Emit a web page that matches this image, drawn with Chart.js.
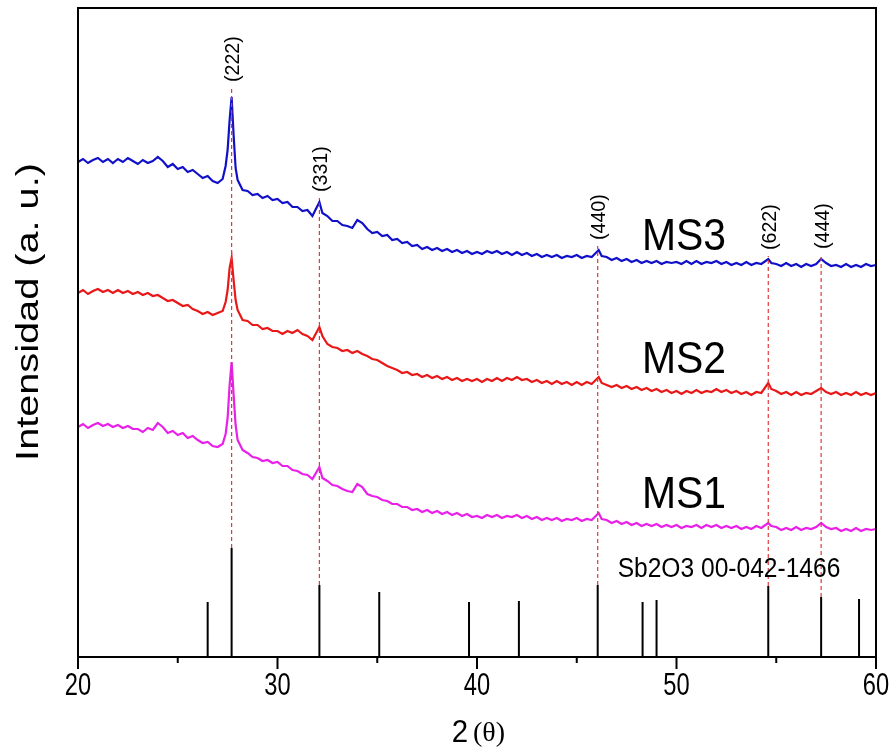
<!DOCTYPE html>
<html>
<head>
<meta charset="utf-8">
<script src="https://cdn.jsdelivr.net/npm/chart.js@4"></script>
<style>
  html, body { margin: 0; padding: 0; background: #fff; }
  #wrap { width: 892px; height: 749px; }
</style>
</head>
<body>
<div id="wrap"><canvas id="xrd" width="892" height="749"></canvas></div>
<script>
// 2θ grid shared by the three patterns (denser around the (222) peak)
const twoTheta = [
  20, 20.25, 20.5, 20.75,  21, 21.25, 21.5, 21.75,  22, 22.25, 22.5, 22.75,
  23, 23.25, 23.5, 23.75,  24, 24.25, 24.5, 24.75,  25, 25.25, 25.5, 25.75,
  26, 26.25, 26.5, 26.75,  27, 27.25, 27.4, 27.5, 27.6, 27.7, 27.8, 27.9,
  28, 28.25, 28.5, 28.75,  29, 29.25, 29.5, 29.75,  30, 30.25, 30.5, 30.75,
  31, 31.25, 31.5, 31.75,  32.1, 32.25, 32.5, 32.75,  33, 33.25, 33.5, 33.75,
  34, 34.25, 34.5, 34.75,  35, 35.25, 35.5, 35.75,  36, 36.25, 36.5, 36.75,
  37, 37.25, 37.5, 37.75,  38, 38.25, 38.5, 38.75,  39, 39.25, 39.5, 39.75,
  40, 40.25, 40.5, 40.75,  41, 41.25, 41.5, 41.75,  42, 42.25, 42.5, 42.75,
  43, 43.25, 43.5, 43.75,  44, 44.25, 44.5, 44.75,  45, 45.25, 45.5, 45.75,
  46.1, 46.25, 46.5, 46.75,  47, 47.25, 47.5, 47.75,  48, 48.25, 48.5, 48.75,
  49, 49.25, 49.5, 49.75,  50, 50.25, 50.5, 50.75,  51, 51.25, 51.5, 51.75,
  52, 52.25, 52.5, 52.75,  53, 53.25, 53.5, 53.75,  54, 54.25, 54.6, 54.75,
  55, 55.25, 55.5, 55.75,  56, 56.25, 56.5, 56.75,  57, 57.25, 57.5, 57.75,
  58, 58.25, 58.5, 58.75,  59, 59.25, 59.5, 59.75,  60
];

// intensities (a. u., stacked as drawn)
const ms3 = [
  495, 498, 494, 497,  499, 495, 498, 494,  498, 495, 499, 496,
  493, 497, 494, 496,  500, 496, 490, 493,  488, 490, 485, 487,
  483, 479, 481, 476,  474, 478, 491, 507, 537, 560, 522, 489,
  477, 467, 466, 462,  463, 459, 461, 457,  458, 454, 455, 450,
  450, 446, 447, 441,  455, 444, 441, 436,  436, 432, 431, 429,
  437, 434, 428, 424,  425, 421, 422, 417,  418, 414, 415, 411,
  412, 408, 410, 407,  409, 406, 408, 405,  407, 404, 406, 403,
  405, 403, 406, 404,  406, 403, 405, 402,  405, 402, 404, 401,
  403, 400, 402, 400,  402, 399, 401, 400,  402, 399, 401, 400,
  407, 401, 400, 397,  399, 396, 398, 395,  397, 394, 396, 394,
  396, 393, 395, 394,  395, 393, 396, 393,  396, 393, 395, 394,
  396, 393, 395, 392,  394, 392, 395, 392,  394, 393, 398, 394,
  393, 391, 394, 391,  393, 390, 393, 391,  393, 398, 394, 391,
  392, 390, 393, 390,  392, 390, 393, 391,  392
];
const ms2 = [
  364, 367, 363, 366,  368, 365, 367, 364,  367, 364, 366, 363,
  365, 362, 364, 361,  362, 359, 356, 357,  354, 351, 352, 348,
  346, 343, 345, 342,  344, 346, 355, 367, 389, 399, 377, 357,
  347, 337, 336, 332,  332, 328, 329, 326,  326, 323, 326, 324,
  327, 323, 321, 317,  330, 321, 313, 310,  309, 306, 307, 304,
  306, 303, 301, 298,  297, 294, 291, 289,  287, 284, 285, 282,
  283, 280, 282, 279,  281, 278, 280, 277,  279, 276, 278, 276,
  278, 275, 278, 276,  279, 276, 279, 277,  280, 277, 278, 275,
  277, 274, 276, 273,  276, 273, 275, 272,  275, 272, 275, 273,
  280, 274, 272, 270,  272, 269, 271, 268,  270, 267, 269, 266,
  268, 265, 267, 264,  266, 263, 266, 264,  267, 264, 266, 265,
  268, 265, 267, 264,  266, 263, 265, 262,  265, 264, 274, 268,
  266, 263, 265, 262,  265, 262, 264, 263,  266, 269, 265, 263,
  265, 262, 264, 262,  265, 262, 264, 262,  264
];
const ms1 = [
  230, 233, 229, 232,  234, 231, 233, 230,  232, 229, 231, 228,
  228, 225, 229, 227,  234, 230, 224, 226,  222, 224, 219, 221,
  217, 214, 215, 211,  210, 213, 223, 239, 272, 295, 262, 232,
  217, 207, 204, 200,  199, 196, 197, 194,  195, 191, 191, 187,
  186, 183, 182, 178,  190, 179, 176, 172,  171, 168, 166, 165,
  173, 170, 163, 161,  160, 157, 156, 153,  153, 150, 150, 147,
  148, 145, 147, 144,  146, 143, 145, 142,  144, 141, 143, 140,
  141, 139, 142, 140,  142, 139, 141, 140,  142, 139, 141, 138,
  140, 137, 139, 137,  139, 136, 138, 137,  139, 136, 138, 137,
  144, 138, 137, 134,  136, 133, 135, 132,  134, 131, 133, 131,
  133, 130, 132, 130,  132, 129, 131, 130,  132, 129, 132, 130,
  132, 129, 131, 129,  131, 128, 130, 128,  131, 129, 134, 131,
  130, 127, 129, 127,  130, 127, 129, 128,  130, 134, 130, 128,
  129, 126, 128, 126,  129, 126, 128, 127,  128
];

// Sb2O3 reference card 00-042-1466
const cardPos = [26.5, 27.7, 32.1, 35.1, 39.6, 42.1, 46.05, 48.3, 49.0, 54.6, 57.25, 59.15];
const cardInt = [55, 109, 72, 65, 55, 56, 72, 55, 57, 71, 60, 58];

// indexed peaks
const hklText = ['(222)', '(331)', '(440)', '(622)', '(444)'];
const hklPos = [27.7, 32.1, 46.05, 54.6, 57.25];
const hklBottom = [109, 72, 72, 71, 60];   // dashed guide starts on the card line
const hklTop = [569, 459, 411, 401, 402];  // ... and ends under the label

const xMajor = [20, 30, 40, 50, 60];
const xMinor = [25, 35, 45, 55];

const SANS = '"Liberation Sans", Arial, sans-serif';
const SERIF = '"Liberation Serif", "Times New Roman", serif';

function pts(xs, ys) {
  return xs.map((x, i) => ({ x: x, y: ys[i] }));
}

// vertical segments separated by gaps
function sticks(xs, y0, y1) {
  const out = [];
  xs.forEach((x, i) => {
    out.push({ x: x, y: Array.isArray(y0) ? y0[i] : y0 });
    out.push({ x: x, y: y1[i] });
    out.push({ x: x, y: null });
  });
  return out;
}

function text(ctx, str, x, y, font, opts) {
  opts = opts || {};
  ctx.save();
  ctx.translate(x, y);
  if (opts.rot) ctx.rotate(opts.rot);
  ctx.scale(opts.sx || 1, 1);
  ctx.font = font;
  ctx.fillStyle = '#000';
  ctx.textAlign = opts.align || 'left';
  ctx.textBaseline = opts.base || 'alphabetic';
  ctx.fillText(str, 0, 0);
  ctx.restore();
}

const decor = {
  id: 'decor',
  afterDraw(chart) {
    const ctx = chart.ctx;
    const a = chart.chartArea;
    const xs = chart.scales.x;
    const ys = chart.scales.y;

    // frame
    ctx.save();
    ctx.strokeStyle = '#000';
    ctx.lineWidth = 2;
    ctx.strokeRect(a.left, a.top, a.right - a.left, a.bottom - a.top);

    // bottom ticks
    ctx.beginPath();
    xMajor.forEach(v => {
      const px = xs.getPixelForValue(v);
      ctx.moveTo(px, a.bottom);
      ctx.lineTo(px, a.bottom + 12);
    });
    xMinor.forEach(v => {
      const px = xs.getPixelForValue(v);
      ctx.moveTo(px, a.bottom);
      ctx.lineTo(px, a.bottom + 6);
    });
    ctx.stroke();
    ctx.restore();

    xMajor.forEach(v => {
      text(ctx, String(v), xs.getPixelForValue(v), a.bottom + 38, '32px ' + SANS,
        { align: 'center', sx: 0.74 });
    });

    // axis titles
    text(ctx, '2', 460, 742, '31px ' + SANS, { align: 'center', sx: 0.95 });
    text(ctx, '(\u03b8)', 489, 741, '28px ' + SERIF, { align: 'center' });
    text(ctx, 'Intensidad (a. u.)', 38, 312, '31px ' + SANS,
      { align: 'center', rot: -Math.PI / 2, sx: 1.28 });

    // sample names
    const nx = xs.getPixelForValue(48.27);
    text(ctx, 'MS3', nx, ys.getPixelForValue(407), '44px ' + SANS, { sx: 0.93 });
    text(ctx, 'MS2', nx, ys.getPixelForValue(284), '44px ' + SANS, { sx: 0.93 });
    text(ctx, 'MS1', nx, ys.getPixelForValue(149), '44px ' + SANS, { sx: 0.93 });
    text(ctx, 'Sb2O3 00-042-1466', xs.getPixelForValue(47.05), ys.getPixelForValue(80),
      '27px ' + SANS, { sx: 0.91 });

    // hkl labels
    hklText.forEach((t, i) => {
      text(ctx, t, xs.getPixelForValue(hklPos[i]) + 2, ys.getPixelForValue(hklTop[i] + 6),
        '20px ' + SANS, { rot: -Math.PI / 2, base: 'middle', sx: 0.98 });
    });
  }
};

new Chart(document.getElementById('xrd'), {
  type: 'line',
  data: {
    datasets: [
      {
        label: 'guides',
        data: sticks(hklPos, hklBottom, hklTop),
        borderColor: '#e03a3a',
        borderWidth: 1.2,
        borderDash: [4, 3],
        pointRadius: 0,
        spanGaps: false
      },
      {
        label: 'Sb2O3',
        data: sticks(cardPos, 0, cardInt),
        borderColor: '#000',
        borderWidth: 2,
        pointRadius: 0,
        spanGaps: false
      },
      {
        label: 'MS1',
        data: pts(twoTheta, ms1),
        borderColor: '#e820e8',
        borderWidth: 2.2,
        pointRadius: 0
      },
      {
        label: 'MS2',
        data: pts(twoTheta, ms2),
        borderColor: '#e81818',
        borderWidth: 2.2,
        pointRadius: 0
      },
      {
        label: 'MS3',
        data: pts(twoTheta, ms3),
        borderColor: '#1010c8',
        borderWidth: 2.2,
        pointRadius: 0
      }
    ]
  },
  options: {
    responsive: false,
    animation: false,
    devicePixelRatio: 1,
    layout: { padding: { left: 78, right: 16, top: 8, bottom: 92 } },
    plugins: { legend: { display: false }, tooltip: { enabled: false } },
    elements: { line: { tension: 0 } },
    scales: {
      x: { type: 'linear', min: 20, max: 60, display: false },
      y: { type: 'linear', min: 0, max: 649, display: false }
    }
  },
  plugins: [decor]
});
</script>
</body>
</html>
